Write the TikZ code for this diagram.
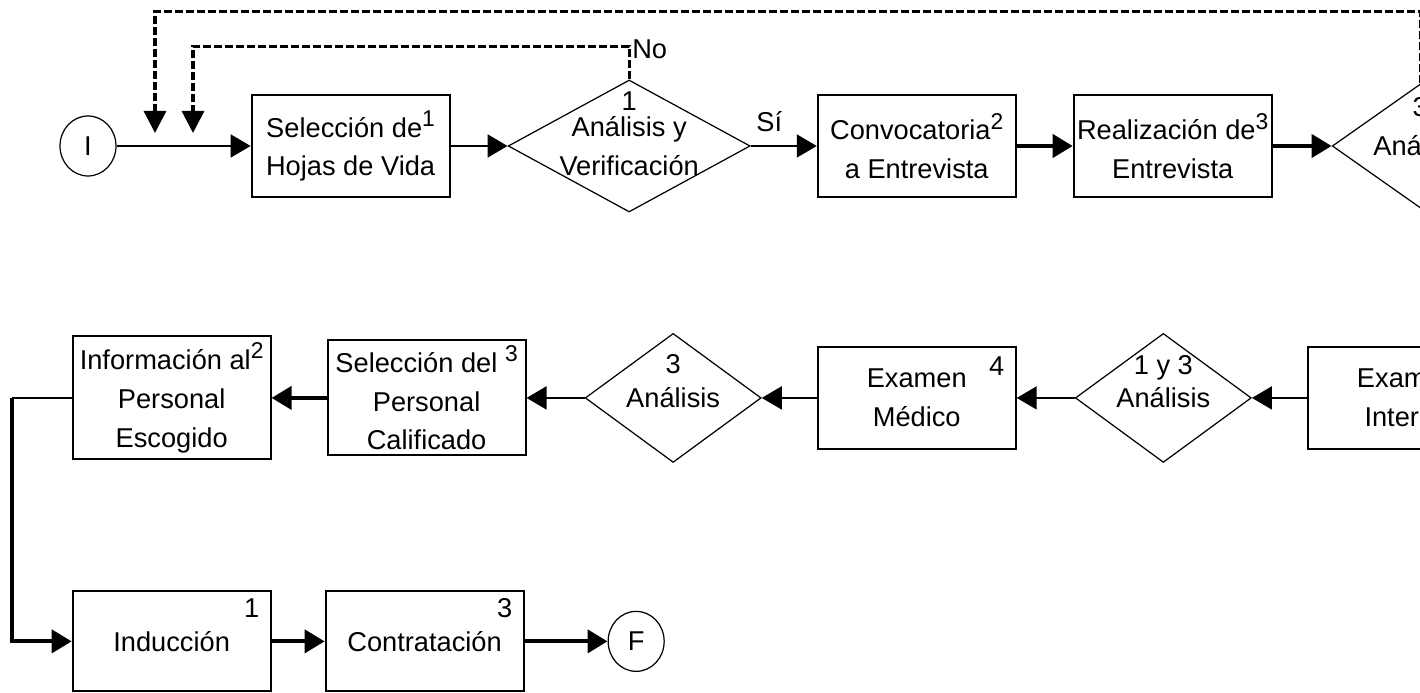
\documentclass[tikz,border=0pt]{standalone}
\usepackage{fontspec}
\setmainfont{Liberation Sans}
\usetikzlibrary{shapes.geometric,arrows.meta,positioning,calc}

\newcommand{\rol}[1]{\raisebox{0.4em}{\fontsize{13}{13}\selectfont #1}}

\begin{document}
\begin{tikzpicture}[
    font=\fontsize{15.5}{22}\selectfont,
    proc/.style={rectangle, draw, line width=1.1pt, minimum width=3.96cm, minimum height=2.04cm, inner sep=1pt, align=center},
    decision/.style={diamond, draw, line width=0.7pt, minimum width=3.52cm, minimum height=2.5cm, inner sep=0pt},
    terminal/.style={ellipse, draw, line width=0.7pt, minimum width=1.12cm, minimum height=1.2cm, inner sep=0pt},
    txt/.style={inner sep=0pt, align=center},
    num/.style={inner sep=0pt},
    lbl/.style={inner sep=1pt},
    arrow/.style={-{Triangle[length=0.4cm, width=0.46cm]}, line width=1.1pt},
    thickarrow/.style={arrow, line width=2.3pt},
    feedback/.style={-{Triangle[length=0.44cm, width=0.44cm]}, line width=1.8pt, dash pattern=on 0.16cm off 0.06cm}
]
\useasboundingbox (0,0) rectangle (28.4,13.86);
\clip (0,0) rectangle (28.4,13.86);

% Row 1
\node[terminal] (ini) at (1.76,10.94) {I};
\node[proc, right=2.68cm of ini] (sel) {Selección de\rol{1}\\Hojas de Vida};
\node[decision, minimum width=4.84cm, minimum height=2.64cm, right=1.14cm of sel] (an1) {};
\node[txt] (an1_t) at (an1) {Análisis y\\Verificación};
\node[num] (an1_n) at ($(an1.center)+(0,0.9)$) {1};
\node[proc, right=1.32cm of an1] (conv) {Convocatoria\rol{2}\\a Entrevista};
\node[proc, right=1.12cm of conv] (real) {Realización de\rol{3}\\Entrevista};
\node[decision, minimum height=2.48cm, right=1.18cm of real] (an2) {};
\node[txt] (an2_t) at (an2) {Análisis};
\node[num] (an2_n) at ($(an2.center)+(0,0.78)$) {3};

% Row 2
\node[proc, below=2.96cm of conv] (med) {Examen\\Médico};
\node[num, below left=0.2cm and 0.24cm of med.north east] (med_n) {4};
\node[decision, minimum height=2.58cm, left=1.1cm of med] (an3) {};
\node[txt] (an3_t) at (an3) {Análisis};
\node[num] (an3_n) at ($(an3.center)+(0,0.68)$) {3};
\node[decision, minimum height=2.58cm, right=1.16cm of med] (an4) {};
\node[txt] (an4_t) at (an4) {Análisis};
\node[num] (an4_n) at ($(an4.center)+(0,0.6)$) {1 y 3};
\node[proc, right=1.1cm of an4] (exi) {Examen\\Interno};
\node[proc, minimum height=2.3cm, left=1.16cm of an3] (selp) {Selección del \rol{3}\\Personal\\Calificado};
\node[proc, minimum height=2.46cm, left=1.1cm of selp] (info) {Información al\rol{2}\\Personal\\Escogido};

% Row 3
\node[proc, minimum height=2cm, below=2.6cm of info] (ind) {Inducción};
\node[num, below left=0.16cm and 0.24cm of ind.north east] (ind_n) {1};
\node[proc, minimum height=2cm, right=1.06cm of ind] (cont) {Contratación};
\node[num, below left=0.16cm and 0.24cm of cont.north east] (cont_n) {3};
\node[terminal, right=1.66cm of cont] (fin) {F};

% Flow
\draw[arrow] (ini) -- (sel);
\draw[arrow] (sel) -- (an1);
\draw[arrow] (an1) -- (conv);
\draw[thickarrow] (conv) -- (real);
\draw[thickarrow] (real) -- (an2);
\draw[arrow] (exi) -- (an4);
\draw[arrow] (an4) -- (med);
\draw[arrow] (med) -- (an3);
\draw[arrow] (an3) -- (selp);
\draw[thickarrow] (selp) -- (info);
\coordinate[left=1.2cm of info.west] (bend);
\draw[line width=1.1pt] (info.west) -- (bend);
\draw[thickarrow] (bend) |- (ind.west);
\draw[thickarrow] (ind) -- (cont);
\draw[thickarrow] (cont) -- (fin);

% Feedback loops
\coordinate[above right=0.26cm and 1.34cm of ini.center] (back1);
\coordinate[above right=0.26cm and 2.1cm of ini.center] (back2);
\draw[feedback] (an2.north) -- ++(0,1.44) -| (back1);
\draw[feedback] (an1.north) -- ++(0,0.66) -| (back2);
\node[lbl, above right=0.37cm and 0.02cm of an1.north] (no) {No};
\node[lbl, above right=0.25cm and 0.07cm of an1.east] (si) {Sí};

\end{tikzpicture}
\end{document}
